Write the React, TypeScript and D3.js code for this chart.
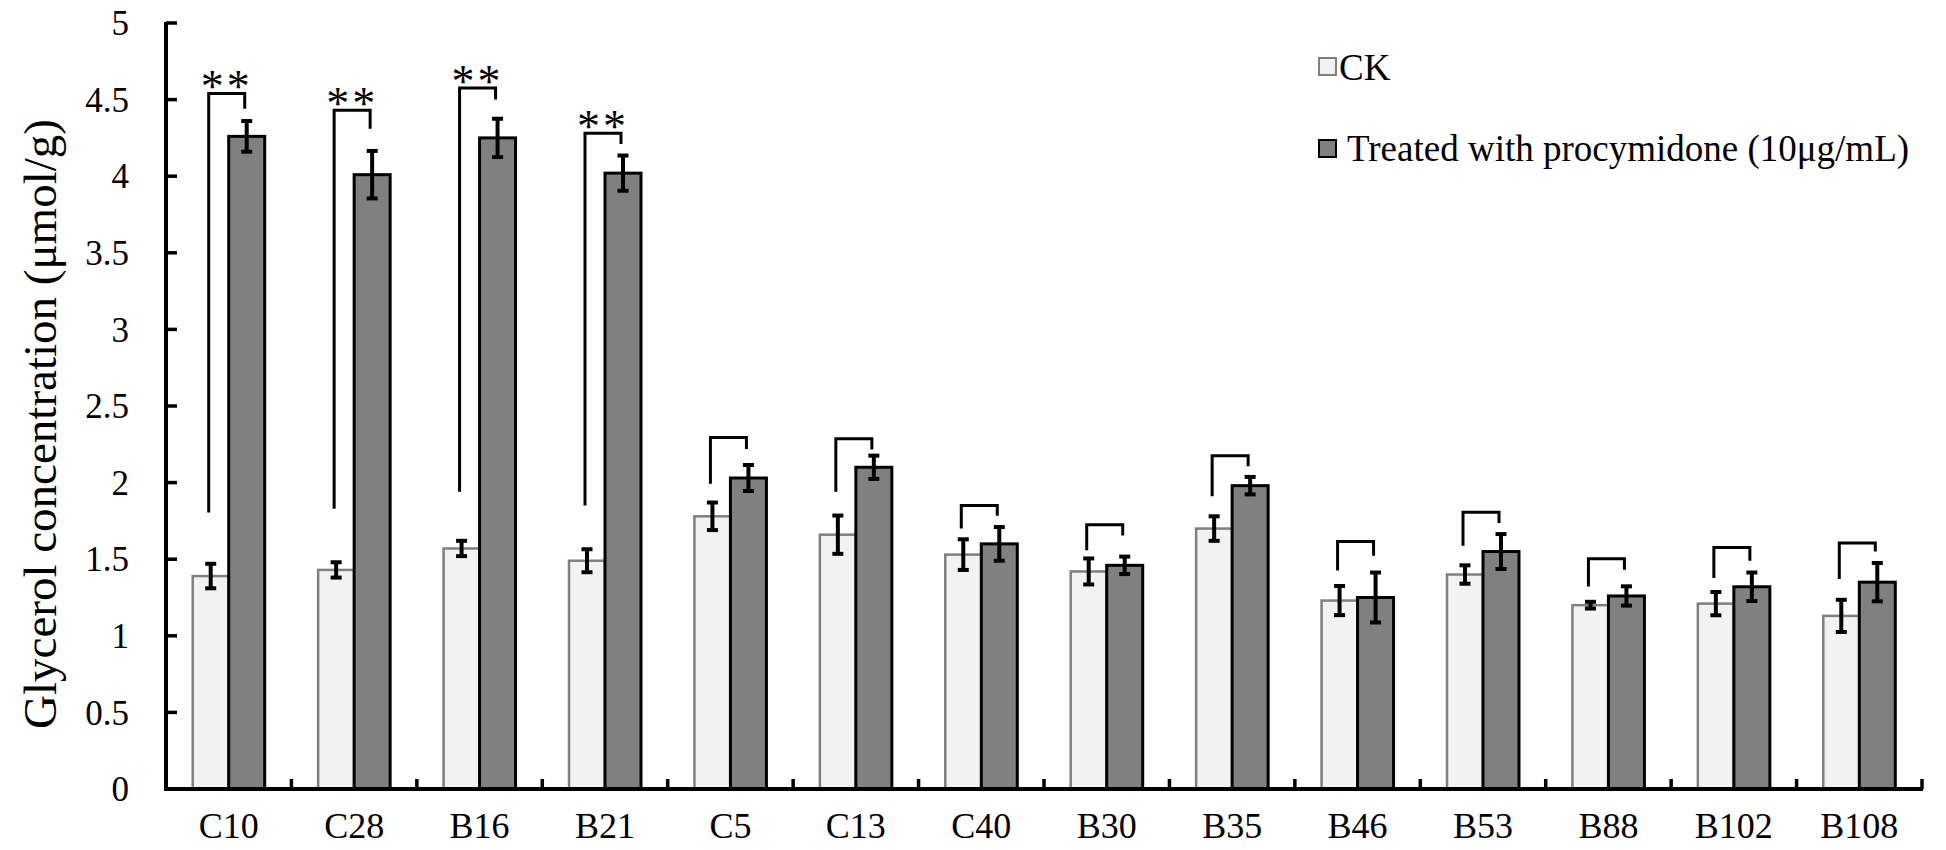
import React from "react";
import * as d3 from "d3";

const categories = ["C10", "C28", "B16", "B21", "C5", "C13", "C40", "B30", "B35", "B46", "B53", "B88", "B102", "B108"];
const ckValues = [1.39, 1.43, 1.57, 1.49, 1.78, 1.66, 1.53, 1.42, 1.70, 1.23, 1.40, 1.20, 1.21, 1.13];
const ckErrors = [0.08, 0.05, 0.05, 0.075, 0.09, 0.125, 0.10, 0.085, 0.08, 0.095, 0.06, 0.022, 0.076, 0.105];
const treatedValues = [4.26, 4.01, 4.25, 4.02, 2.03, 2.10, 1.60, 1.46, 1.98, 1.25, 1.55, 1.26, 1.32, 1.35];
const treatedErrors = [0.10, 0.155, 0.125, 0.115, 0.085, 0.076, 0.11, 0.057, 0.057, 0.163, 0.114, 0.063, 0.093, 0.125];
const bracketTop = [4.54, 4.43, 4.575, 4.28, 2.294, 2.286, 1.85, 1.725, 2.175, 1.616, 1.806, 1.503, 1.577, 1.606];
const bracketLeftBottom = [1.805, 1.83, 1.94, 1.85, 1.993, 1.941, 1.70, 1.558, 1.911, 1.427, 1.588, 1.322, 1.377, 1.37];
const bracketRightBottom = [4.44, 4.31, 4.50, 4.21, 2.22, 2.216, 1.784, 1.654, 2.107, 1.523, 1.736, 1.431, 1.49, 1.551];
const sigLabels = ["**", "**", "**", "**", "", "", "", "", "", "", "", "", "", ""];
const yTicks = [0, 0.5, 1, 1.5, 2, 2.5, 3, 3.5, 4, 4.5, 5];
const seriesNames = ["CK", "Treated with procymidone (10\u03bcg/mL)"];
const yTitle = "Glycerol concentration (\u03bcmol/g)";

const FONT = "'Liberation Serif', 'Times New Roman', serif";

export default function App() {
  const left = 166;
  const right = 1922;
  const top = 23;
  const bottom = 789;

  const x0 = d3.scaleBand<string>().domain(categories).range([left, right]).padding(0);
  const bw = x0.bandwidth();
  const groupW = 72;
  const x1 = d3
    .scaleBand<string>()
    .domain(["ck", "t"])
    .range([(bw - groupW) / 2, (bw + groupW) / 2])
    .padding(0);
  const y = d3.scaleLinear().domain([0, 5]).range([bottom, top]);
  const barW = x1.bandwidth();
  const capW = 11;

  return (
    <svg
      width={1946}
      height={850}
      style={{ position: "absolute", left: 0, top: 0, background: "#fff" }}
      fontFamily={FONT}
    >
      <rect x={0} y={0} width={1946} height={850} fill="#fff" />
      {/* bars */}
      {categories.map((c, i) => {
        const gx = x0(c)!;
        const ckX = gx + x1("ck")!;
        const tX = gx + x1("t")!;
        return (
          <g key={c}>
            <rect
              x={ckX}
              y={y(ckValues[i])}
              width={barW}
              height={y(0) - y(ckValues[i])}
              fill="#f2f2f2"
              stroke="#7f7f7f"
              strokeWidth={2.5}
            />
            <rect
              x={tX}
              y={y(treatedValues[i])}
              width={barW}
              height={y(0) - y(treatedValues[i])}
              fill="#808080"
              stroke="#000"
              strokeWidth={3}
            />
          </g>
        );
      })}
      {/* error bars */}
      {categories.map((c, i) => {
        const gx = x0(c)!;
        const items = [
          { cx: gx + x1("ck")! + barW / 2, v: ckValues[i], e: ckErrors[i] },
          { cx: gx + x1("t")! + barW / 2, v: treatedValues[i], e: treatedErrors[i] },
        ];
        return (
          <g key={"e" + c} stroke="#000" strokeWidth={4}>
            {items.map((it, j) => (
              <g key={j}>
                <line x1={it.cx} x2={it.cx} y1={y(it.v + it.e)} y2={y(it.v - it.e)} />
                <line x1={it.cx - capW / 2} x2={it.cx + capW / 2} y1={y(it.v + it.e)} y2={y(it.v + it.e)} />
                <line x1={it.cx - capW / 2} x2={it.cx + capW / 2} y1={y(it.v - it.e)} y2={y(it.v - it.e)} />
              </g>
            ))}
          </g>
        );
      })}
      {/* significance brackets */}
      {categories.map((c, i) => {
        const gx = x0(c)!;
        const lx = gx + x1("ck")! + barW / 2 - 2;
        const rx = gx + x1("t")! + barW / 2 - 2;
        const path = d3.path();
        path.moveTo(lx, y(bracketLeftBottom[i]));
        path.lineTo(lx, y(bracketTop[i]));
        path.lineTo(rx, y(bracketTop[i]));
        path.lineTo(rx, y(bracketRightBottom[i]));
        return (
          <g key={"b" + c}>
            <path d={path.toString()} fill="none" stroke="#000" strokeWidth={3} />
            {sigLabels[i] ? (
              <text
                x={(lx + rx) / 2}
                y={y(bracketTop[i]) + 9}
                textAnchor="middle"
                fontSize={46}
                letterSpacing={3}
                fill="#000"
              >
                {sigLabels[i]}
              </text>
            ) : null}
          </g>
        );
      })}
      {/* y axis */}
      <line x1={left} x2={left} y1={top - 1} y2={bottom + 2} stroke="#000" strokeWidth={4} />
      {yTicks.map((t) => (
        <g key={"yt" + t}>
          <line x1={left} x2={left + 11} y1={y(t)} y2={y(t)} stroke="#000" strokeWidth={3.5} />
          <text x={129} y={y(t)} dy="0.35em" textAnchor="end" fontSize={35} fill="#000">
            {String(t)}
          </text>
        </g>
      ))}
      {/* x axis */}
      <line x1={left - 2} x2={right + 1} y1={bottom} y2={bottom} stroke="#000" strokeWidth={4} />
      {categories.map((c) => (
        <g key={"xt" + c}>
          <line
            x1={x0(c)! + bw}
            x2={x0(c)! + bw}
            y1={bottom}
            y2={bottom - 10}
            stroke="#000"
            strokeWidth={3.5}
          />
          <text x={x0(c)! + bw / 2} y={838} textAnchor="middle" fontSize={36} fill="#000">
            {c}
          </text>
        </g>
      ))}
      {/* y title */}
      <text
        transform={`translate(56, 424) rotate(-90)`}
        textAnchor="middle"
        fontSize={47}
        fill="#000"
      >
        {yTitle}
      </text>
      {/* legend */}
      <rect x={1319} y={58} width={17} height={17} fill="#f2f2f2" stroke="#7f7f7f" strokeWidth={2} />
      <text x={1339} y={80} fontSize={37} fill="#000">
        {seriesNames[0]}
      </text>
      <rect x={1319} y={140} width={17} height={17} fill="#808080" stroke="#000" strokeWidth={2} />
      <text x={1347} y={161} fontSize={37} fill="#000">
        {seriesNames[1]}
      </text>
    </svg>
  );
}
